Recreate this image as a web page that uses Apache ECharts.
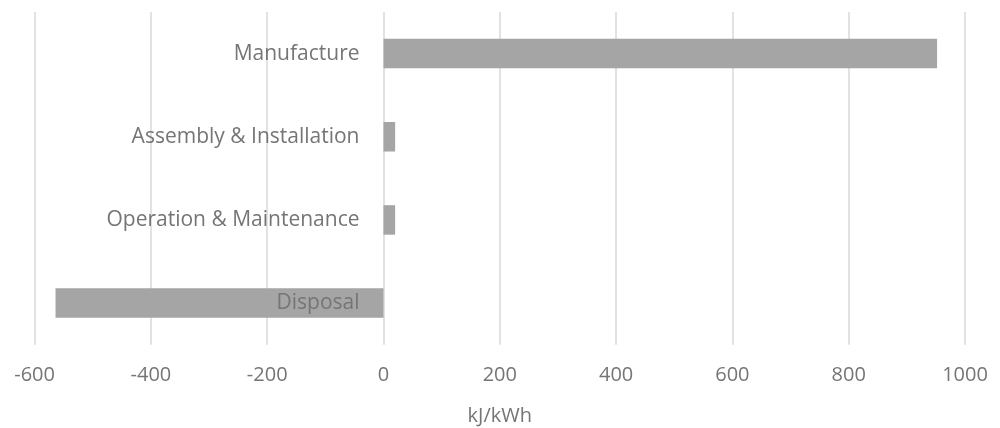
<!DOCTYPE html>
<html>
<head>
<meta charset="utf-8">
<script src="https://cdn.jsdelivr.net/npm/echarts@6/dist/echarts.min.js"></script>
<style>
html,body{margin:0;padding:0;background:#fff;}
#main{width:1000px;height:428px;}
</style>
</head>
<body>
<div id="main"></div>
<script>
var categories = ['Manufacture', 'Assembly & Installation', 'Operation & Maintenance', 'Disposal'];
var values = [952, 20, 20, -564];
var xTicks = { min: -600, max: 1000, interval: 200 };
var axisName = 'kJ/kWh';

var chart = echarts.init(document.getElementById('main'));
var textColor = '#757575';
var fontFamily = '"Open Sans", sans-serif';
// helper: zero-valued bars whose labels sit just left of the value-axis zero
var labelAnchors = categories.map(function () { return 0; });
chart.setOption({
  animation: false,
  grid: { left: 34.6, right: 35, top: 12, bottom: 83.3, containLabel: false, outerBoundsMode: 'none' },
  xAxis: {
    type: 'value',
    min: xTicks.min, max: xTicks.max, interval: xTicks.interval,
    name: axisName,
    nameLocation: 'middle',
    nameGap: 62,
    nameTextStyle: { color: textColor, fontSize: 20, fontFamily: fontFamily },
    axisLine: { show: false },
    axisTick: { show: false },
    axisLabel: { color: textColor, fontSize: 20, fontFamily: fontFamily, margin: 21,
      formatter: function (v) { return String(v); } },
    splitLine: { show: true, lineStyle: { color: '#d9d9d9', width: 1.5 } }
  },
  yAxis: {
    type: 'category',
    data: categories,
    inverse: true,
    axisLine: { show: false },
    axisTick: { show: false },
    axisLabel: { show: false },
    splitLine: { show: false }
  },
  series: [{
    type: 'bar',
    data: values,
    barWidth: 29.5,
    barGap: '-100%',
    itemStyle: { color: '#a5a5a5' },
    z: 2
  }, {
    type: 'bar',
    data: labelAnchors,
    barWidth: 29.5,
    barGap: '-100%',
    silent: true,
    z: 5,
    itemStyle: { color: 'rgba(0,0,0,0)' },
    label: {
      show: true,
      position: 'left',
      distance: 24,
      color: textColor,
      fontSize: 21,
      fontFamily: fontFamily,
      formatter: function (p) { return p.name; }
    }
  }]
});
</script>
</body>
</html>
